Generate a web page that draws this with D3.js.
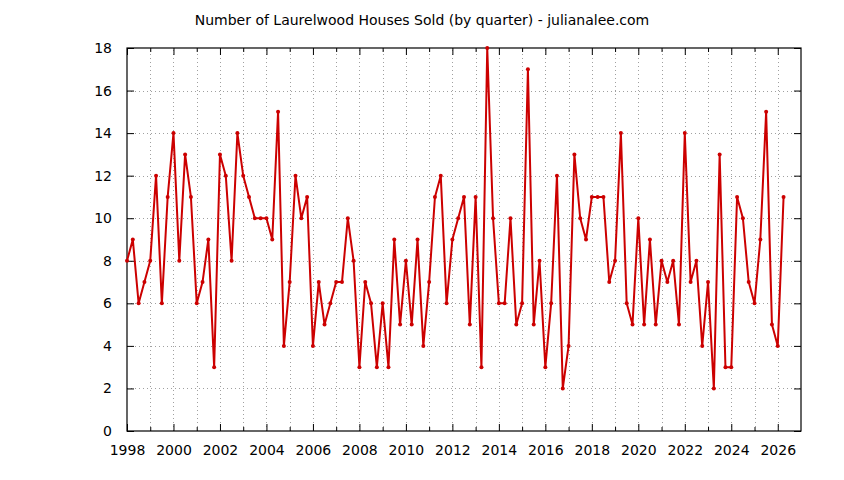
<!DOCTYPE html>
<html>
<head>
<meta charset="utf-8">
<script src="https://cdn.jsdelivr.net/npm/d3@7"></script>
<style>
  body { margin: 0; background: #fff; }
  text { font-family: "DejaVu Sans", sans-serif; fill: #000; }
</style>
</head>
<body>
<div id="chart"></div>
<script>
// Houses sold per quarter, starting Q1 1998
const startYear = 1998;
const sold = [
    8, 9, 6, 7,      // 1998
    8, 12, 6, 11,    // 1999
    14, 8, 13, 11,   // 2000
    6, 7, 9, 3,      // 2001
    13, 12, 8, 14,   // 2002
    12, 11, 10, 10,  // 2003
    10, 9, 15, 4,    // 2004
    7, 12, 10, 11,   // 2005
    4, 7, 5, 6,      // 2006
    7, 7, 10, 8,     // 2007
    3, 7, 6, 3,      // 2008
    6, 3, 9, 5,      // 2009
    8, 5, 9, 4,      // 2010
    7, 11, 12, 6,    // 2011
    9, 10, 11, 5,    // 2012
    11, 3, 18, 10,   // 2013
    6, 6, 10, 5,     // 2014
    6, 17, 5, 8,     // 2015
    3, 6, 12, 2,     // 2016
    4, 13, 10, 9,    // 2017
    11, 11, 11, 7,   // 2018
    8, 14, 6, 5,     // 2019
    10, 5, 9, 5,     // 2020
    8, 7, 8, 5,      // 2021
    14, 7, 8, 4,     // 2022
    7, 2, 13, 3,     // 2023
    3, 11, 10, 7,    // 2024
    6, 9, 15, 5,     // 2025
    4, 11            // 2026
];

const xTickLabels = [1998, 2000, 2002, 2004, 2006, 2008, 2010, 2012, 2014, 2016, 2018, 2020, 2022, 2024, 2026];
const xMinorTicks = [1999, 2001, 2003, 2005, 2007, 2009, 2011, 2013, 2015, 2017, 2019, 2021, 2023, 2025];
const yTickLabels = [0, 2, 4, 6, 8, 10, 12, 14, 16, 18];

const title = "Number of Laurelwood Houses Sold (by quarter) - julianalee.com";

const width = 844, height = 480;
const margin = { top: 48, right: 43, bottom: 49, left: 127 };

const svg = d3.select("#chart").append("svg")
    .attr("width", width)
    .attr("height", height);

const x = d3.scaleLinear().domain([1998, 2027]).range([margin.left, width - margin.right]);
const y = d3.scaleLinear().domain([0, 18]).range([height - margin.bottom, margin.top]);

const points = sold.map((v, i) => ({ year: startYear + i / 4, value: v }));

// Grid (dotted)
const grid = svg.append("g")
    .attr("stroke", "#a0a0a0")
    .attr("stroke-width", 1)
    .attr("stroke-dasharray", "1,3");

grid.selectAll("line.vx")
    .data(xTickLabels.concat(xMinorTicks).filter(d => d > 1998))
    .join("line")
    .attr("x1", d => Math.round(x(d)) + 0.5)
    .attr("x2", d => Math.round(x(d)) + 0.5)
    .attr("y1", y(0))
    .attr("y2", y(18));

grid.selectAll("line.hy")
    .data(yTickLabels.filter(d => d > 0 && d < 18))
    .join("line")
    .attr("x1", x(1998))
    .attr("x2", x(2027))
    .attr("y1", d => Math.round(y(d)) + 0.5)
    .attr("y2", d => Math.round(y(d)) + 0.5);

// Axes with inward ticks
const fmt = d3.format("d");

const xAxis = d3.axisBottom(x).tickValues(xTickLabels).tickFormat(fmt).tickSizeInner(-7).tickSizeOuter(0).tickPadding(14);
const xAxisTop = d3.axisTop(x).tickValues(xTickLabels).tickFormat("").tickSizeInner(-7).tickSizeOuter(0);
const xMinor = d3.axisBottom(x).tickValues(xMinorTicks).tickFormat("").tickSizeInner(-4).tickSizeOuter(0);
const xMinorTop = d3.axisTop(x).tickValues(xMinorTicks).tickFormat("").tickSizeInner(-4).tickSizeOuter(0);
const yAxis = d3.axisLeft(y).tickValues(yTickLabels).tickFormat(fmt).tickSizeInner(-7).tickSizeOuter(0).tickPadding(15);
const yAxisRight = d3.axisRight(y).tickValues(yTickLabels).tickFormat("").tickSizeInner(-7).tickSizeOuter(0);

function styleAxis(g) {
    g.select(".domain").remove();
    g.selectAll(".tick line").attr("stroke", "#000").attr("stroke-width", 1);
    g.selectAll(".tick text")
        .style("font-family", "'DejaVu Sans', sans-serif")
        .style("font-size", "14px")
        .attr("fill", "#000");
}

svg.append("g").attr("transform", `translate(0,${y(0)})`).call(xAxis).call(styleAxis);
svg.append("g").attr("transform", `translate(0,${y(0)})`).call(xMinor).call(styleAxis);
svg.append("g").attr("transform", `translate(0,${y(18)})`).call(xAxisTop).call(styleAxis);
svg.append("g").attr("transform", `translate(0,${y(18)})`).call(xMinorTop).call(styleAxis);
svg.append("g").attr("transform", `translate(${x(1998)},0)`).call(yAxis).call(styleAxis);
svg.append("g").attr("transform", `translate(${x(2027)},0)`).call(yAxisRight).call(styleAxis);

// Border
svg.append("rect")
    .attr("x", x(1998))
    .attr("y", y(18))
    .attr("width", x(2027) - x(1998))
    .attr("height", y(0) - y(18))
    .attr("fill", "none")
    .attr("stroke", "#000")
    .attr("stroke-width", 1.2);

// Data line and points
const line = d3.line()
    .x(d => x(d.year))
    .y(d => y(d.value));

svg.append("path")
    .datum(points)
    .attr("fill", "none")
    .attr("stroke", "#cc0000")
    .attr("stroke-width", 2)
    .attr("stroke-linejoin", "round")
    .attr("d", line);

svg.append("g")
    .selectAll("circle")
    .data(points)
    .join("circle")
    .attr("cx", d => x(d.year))
    .attr("cy", d => y(d.value))
    .attr("r", 2)
    .attr("fill", "#cc0000");

// Title
svg.append("text")
    .attr("x", 422)
    .attr("y", 25)
    .attr("text-anchor", "middle")
    .style("font-size", "14px")
    .text(title);
</script>
</body>
</html>
